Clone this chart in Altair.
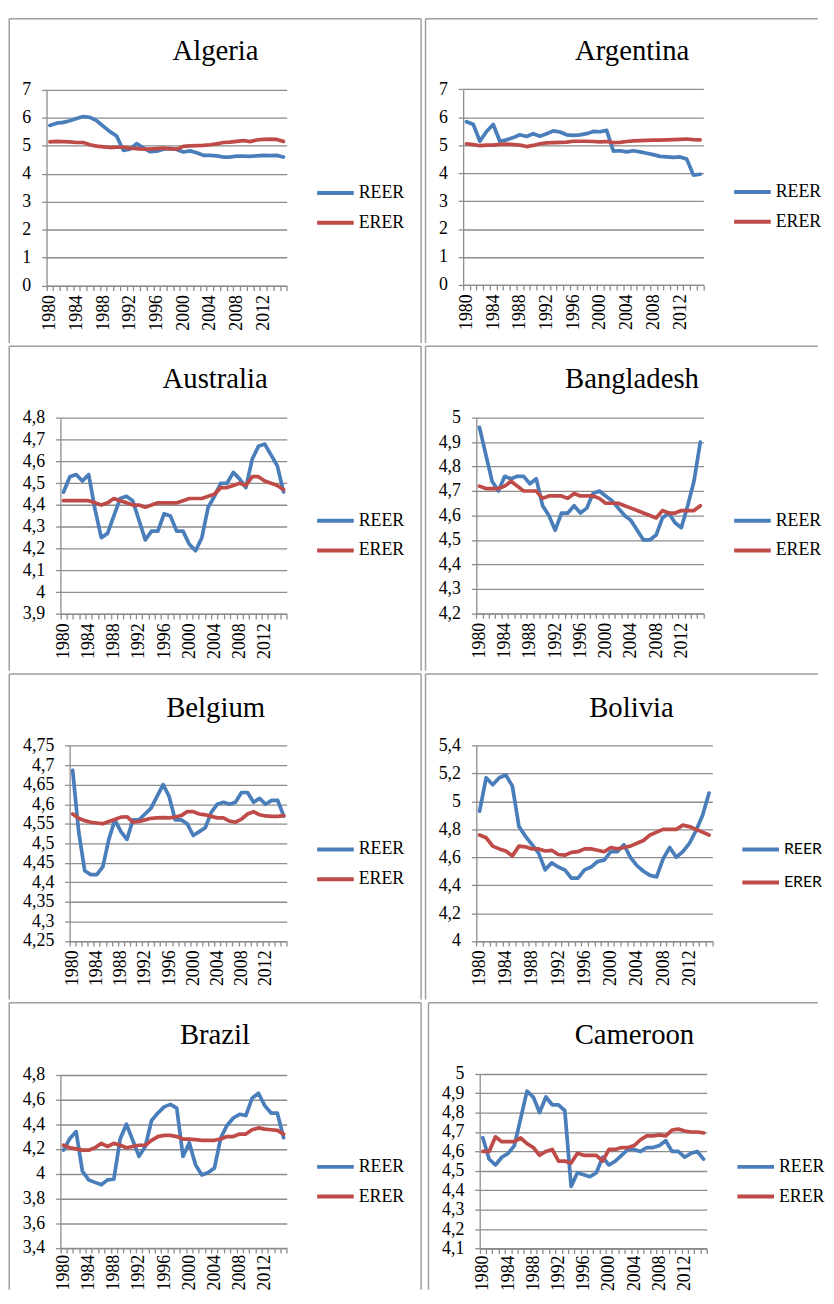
import altair as alt
import pandas as pd

years = list(range(1980, 2016))
countries = ["Algeria", "Argentina", "Australia", "Bangladesh",
             "Belgium", "Bolivia", "Brazil", "Cameroon"]

algeria_reer = [5.73, 5.81, 5.84, 5.90, 5.98, 6.05, 6.02, 5.90, 5.70, 5.51, 5.35, 4.84,
                4.88, 5.08, 4.93, 4.79, 4.81, 4.88, 4.90, 4.87, 4.78, 4.82, 4.75, 4.66,
                4.66, 4.64, 4.60, 4.60, 4.63, 4.63, 4.62, 4.64, 4.66, 4.65, 4.66, 4.60]
algeria_erer = [5.14, 5.16, 5.15, 5.14, 5.12, 5.12, 5.04, 4.99, 4.96, 4.94, 4.95, 4.95,
                4.92, 4.90, 4.88, 4.88, 4.90, 4.92, 4.90, 4.88, 4.98, 5.00, 5.01, 5.02,
                5.04, 5.07, 5.12, 5.13, 5.16, 5.19, 5.15, 5.21, 5.23, 5.24, 5.23, 5.16]
argentina_reer = [5.84, 5.75, 5.14, 5.49, 5.74, 5.14, 5.19, 5.27, 5.37, 5.31, 5.41, 5.32,
                  5.41, 5.51, 5.47, 5.37, 5.35, 5.37, 5.41, 5.49, 5.48, 5.53, 4.79, 4.80,
                  4.76, 4.80, 4.76, 4.71, 4.66, 4.60, 4.58, 4.56, 4.58, 4.50, 3.93, 3.96]
argentina_erer = [5.05, 5.02, 4.98, 5.00, 5.00, 5.03, 5.04, 5.02, 5.00, 4.95, 4.99, 5.05,
                  5.08, 5.09, 5.10, 5.11, 5.14, 5.14, 5.14, 5.13, 5.12, 5.13, 5.09, 5.10,
                  5.13, 5.15, 5.16, 5.17, 5.18, 5.18, 5.19, 5.20, 5.21, 5.22, 5.20, 5.19]
australia_reer = [4.46, 4.53, 4.54, 4.51, 4.54, 4.38, 4.25, 4.27, 4.35, 4.43, 4.44, 4.42,
                  4.33, 4.24, 4.28, 4.28, 4.36, 4.35, 4.28, 4.28, 4.22, 4.19, 4.25, 4.39,
                  4.44, 4.50, 4.50, 4.55, 4.52, 4.48, 4.61, 4.67, 4.68, 4.63, 4.58, 4.46]
australia_erer = [4.42, 4.42, 4.42, 4.42, 4.42, 4.41, 4.40, 4.41, 4.43, 4.42, 4.41, 4.40,
                  4.40, 4.39, 4.40, 4.41, 4.41, 4.41, 4.41, 4.42, 4.43, 4.43, 4.43, 4.44,
                  4.45, 4.48, 4.48, 4.49, 4.50, 4.49, 4.53, 4.53, 4.51, 4.50, 4.49, 4.47]
bangladesh_reer = [4.96, 4.85, 4.74, 4.70, 4.76, 4.75, 4.76, 4.76, 4.73, 4.75, 4.64, 4.60,
                   4.54, 4.61, 4.61, 4.64, 4.61, 4.63, 4.69, 4.70, 4.68, 4.66, 4.63, 4.60,
                   4.58, 4.54, 4.50, 4.50, 4.52, 4.59, 4.61, 4.57, 4.55, 4.64, 4.74, 4.90]
bangladesh_erer = [4.72, 4.71, 4.71, 4.71, 4.72, 4.74, 4.72, 4.70, 4.70, 4.70, 4.67, 4.68,
                   4.68, 4.68, 4.67, 4.69, 4.68, 4.68, 4.68, 4.67, 4.65, 4.65, 4.65, 4.64,
                   4.63, 4.62, 4.61, 4.60, 4.59, 4.62, 4.61, 4.61, 4.62, 4.62, 4.62, 4.64]
belgium_reer = [4.687, 4.53, 4.43, 4.42, 4.42, 4.44, 4.51, 4.56, 4.53, 4.51, 4.56, 4.56,
                4.575, 4.59, 4.62, 4.65, 4.62, 4.56, 4.56, 4.55, 4.52, 4.53, 4.54, 4.58,
                4.60, 4.605, 4.60, 4.605, 4.63, 4.63, 4.605, 4.615, 4.60, 4.61, 4.61, 4.57]
belgium_erer = [4.575, 4.564, 4.558, 4.554, 4.552, 4.55, 4.556, 4.561, 4.567, 4.568, 4.554, 4.556,
                4.56, 4.564, 4.565, 4.566, 4.565, 4.567, 4.571, 4.581, 4.581, 4.575, 4.573, 4.569,
                4.565, 4.565, 4.557, 4.554, 4.562, 4.575, 4.581, 4.573, 4.57, 4.569, 4.569, 4.571]
bolivia_reer = [4.93, 5.17, 5.12, 5.17, 5.19, 5.11, 4.82, 4.75, 4.69, 4.63, 4.51, 4.56,
                4.53, 4.51, 4.45, 4.45, 4.51, 4.53, 4.57, 4.58, 4.64, 4.64, 4.69, 4.60,
                4.54, 4.50, 4.47, 4.46, 4.59, 4.67, 4.60, 4.64, 4.70, 4.79, 4.90, 5.06]
bolivia_erer = [4.76, 4.74, 4.68, 4.66, 4.645, 4.61, 4.68, 4.675, 4.66, 4.66, 4.645, 4.65,
                4.62, 4.615, 4.635, 4.64, 4.66, 4.66, 4.65, 4.64, 4.67, 4.66, 4.67, 4.68,
                4.70, 4.72, 4.76, 4.78, 4.80, 4.80, 4.80, 4.83, 4.82, 4.80, 4.78, 4.76]
brazil_reer = [4.19, 4.285, 4.34, 4.02, 3.95, 3.93, 3.91, 3.95, 3.955, 4.28, 4.40, 4.27,
               4.14, 4.22, 4.43, 4.49, 4.54, 4.56, 4.53, 4.14, 4.25, 4.07, 3.99, 4.01,
               4.045, 4.29, 4.39, 4.45, 4.48, 4.47, 4.61, 4.65, 4.55, 4.49, 4.49, 4.29]
brazil_erer = [4.23, 4.21, 4.20, 4.19, 4.19, 4.21, 4.245, 4.22, 4.245, 4.23, 4.21, 4.22,
               4.23, 4.23, 4.27, 4.30, 4.31, 4.31, 4.30, 4.28, 4.28, 4.275, 4.27, 4.27,
               4.27, 4.28, 4.30, 4.30, 4.32, 4.32, 4.355, 4.37, 4.36, 4.355, 4.35, 4.32]
cameroon_reer = [4.67, 4.56, 4.53, 4.57, 4.59, 4.63, 4.77, 4.91, 4.88, 4.80, 4.88, 4.84,
                 4.84, 4.81, 4.42, 4.49, 4.48, 4.47, 4.49, 4.57, 4.53, 4.55, 4.58, 4.61,
                 4.61, 4.60, 4.62, 4.62, 4.63, 4.655, 4.60, 4.60, 4.57, 4.59, 4.60, 4.56]
cameroon_erer = [4.60, 4.60, 4.675, 4.65, 4.65, 4.65, 4.67, 4.64, 4.62, 4.58, 4.60, 4.61,
                 4.55, 4.55, 4.54, 4.59, 4.58, 4.58, 4.58, 4.55, 4.61, 4.61, 4.62, 4.62,
                 4.63, 4.66, 4.68, 4.68, 4.685, 4.68, 4.71, 4.715, 4.705, 4.70, 4.70, 4.695]

ticks_algeria = [0, 1, 2, 3, 4, 5, 6, 7]
ticks_argentina = [0, 1, 2, 3, 4, 5, 6, 7]
ticks_australia = [3.9, 4.0, 4.1, 4.2, 4.3, 4.4, 4.5, 4.6, 4.7, 4.8]
ticks_bangladesh = [4.2, 4.3, 4.4, 4.5, 4.6, 4.7, 4.8, 4.9, 5.0]
ticks_belgium = [4.25, 4.3, 4.35, 4.4, 4.45, 4.5, 4.55, 4.6, 4.65, 4.7, 4.75]
ticks_bolivia = [4.0, 4.2, 4.4, 4.6, 4.8, 5.0, 5.2, 5.4]
ticks_brazil = [3.4, 3.6, 3.8, 4.0, 4.2, 4.4, 4.6, 4.8]
ticks_cameroon = [4.1, 4.2, 4.3, 4.4, 4.5, 4.6, 4.7, 4.8, 4.9, 5.0]

reer_series = [algeria_reer, argentina_reer, australia_reer, bangladesh_reer,
               belgium_reer, bolivia_reer, brazil_reer, cameroon_reer]
erer_series = [algeria_erer, argentina_erer, australia_erer, bangladesh_erer,
               belgium_erer, bolivia_erer, brazil_erer, cameroon_erer]
tick_sets = [ticks_algeria, ticks_argentina, ticks_australia, ticks_bangladesh,
             ticks_belgium, ticks_bolivia, ticks_brazil, ticks_cameroon]

# page positions (px): cell origin and size, plot box, visible frame left, title, legend
RW = 396.25  # right-hand cells stop just inside the page width
layouts = [
    dict(cell=(9, 12, 416, 329.25), plot=(46.7, 84, 289.3, 281.7), fl=9, title=(217.3, 53.5), legend=(318, 186.7)),
    dict(cell=(429, 12, RW, 329.25), plot=(467, 83.3, 709.7, 281), fl=429, title=(637.7, 53.5), legend=(738.7, 185.7)),
    dict(cell=(9, 342, 416, 329.25), plot=(60.7, 414.3, 289.3, 612.3), fl=9, title=(217, 384.3), legend=(318, 516.7)),
    dict(cell=(429, 342, RW, 329.25), plot=(480.3, 414, 709.7, 611.7), fl=429, title=(637.5, 384.3), legend=(738.7, 516.7)),
    dict(cell=(9, 672, 416, 330.25), plot=(70, 744.3, 289.3, 941.7), fl=9, title=(217.5, 715), legend=(318, 847.7)),
    dict(cell=(429, 672, RW, 330.25), plot=(480.3, 744.3, 718.7, 941.7), fl=429, title=(637, 715), legend=(747, 846.7)),
    dict(cell=(9, 1003, 416, 290), plot=(60.7, 1075.7, 289.3, 1250.7), fl=9, title=(216.8, 1045), legend=(318, 1167.3)),
    dict(cell=(429, 1003, RW, 290), plot=(483.7, 1074.7, 713, 1251.3), fl=432, title=(640, 1045), legend=(742, 1167.3)),
]

SERIF = "Liberation Serif"
BLUE, RED = "#4A7EBB", "#BE4B48"
GRID = "#8C8C8C"
FRAME = "#9E9E9E"
one = pd.DataFrame({"k": [0]})


def rule(color=FRAME, **enc):
    return alt.Chart(one).mark_rule(color=color, strokeWidth=1.5).encode(
        **{k: alt.value(v) for k, v in enc.items()})


def panel(i):
    lay = layouts[i]
    cx0, cy0, cw, ch = lay["cell"]
    x0, y0, x1, y1 = lay["plot"]
    left_col = i % 2 == 0
    last_row = i >= 6
    band = (x1 - x0) / len(years)
    ticks = tick_sets[i]

    df = pd.DataFrame({
        "year": years + years,
        "value": reer_series[i] + erer_series[i],
        "series": ["REER"] * len(years) + ["ERER"] * len(years),
    })

    edges = [years[0] - 0.5 + k for k in range(len(years) + 1)]
    x = alt.X("year:Q",
              scale=alt.Scale(domain=[edges[0], edges[-1]], range=[x0 - cx0, x1 - cx0],
                              nice=False, zero=False),
              axis=alt.Axis(values=edges, title=None, grid=False, offset=-(ch - (y1 - cy0)),
                            labelExpr="(datum.value + 0.5) % 4 == 0 && datum.value < 2013 ? '' + (datum.value + 0.5) : ''",
                            labelAngle=270, labelAlign="right", labelBaseline="middle",
                            labelOffset=band / 2, labelPadding=1.5 if last_row else 4,
                            labelFont=SERIF, labelFontSize=18,
                            labelColor="black", labelOverlap=False,
                            labelFlush=False, domainColor=GRID, domainWidth=1.3,
                            tickColor=GRID, tickWidth=1.3, tickSize=5))
    y = alt.Y("value:Q",
              scale=alt.Scale(domain=[ticks[0], ticks[-1]], range=[y1 - cy0, y0 - cy0],
                              nice=False, zero=False),
              axis=alt.Axis(values=ticks, title=None, offset=-(x0 - cx0),
                            labelExpr="replace(format(datum.value, '~g'), '.', ',')",
                            labelPadding=11, labelFont=SERIF, labelFontSize=18,
                            labelColor="black", labelOverlap=False, labelFlush=False,
                            grid=True, gridColor=GRID, gridWidth=1.3,
                            domainColor=GRID, domainWidth=1.3,
                            tickColor=GRID, tickWidth=1.3, tickSize=5))
    sans = i == 5
    lx, ly = lay["legend"]
    color = alt.Color("series:N",
                      scale=alt.Scale(domain=["REER", "ERER"], range=[BLUE, RED]),
                      legend=alt.Legend(orient="none", legendX=lx - cx0,
                                        legendY=ly - cy0 - (18 if sans else 19),
                                        title=None, symbolType="stroke", symbolSize=1369,
                                        symbolStrokeWidth=4, labelOffset=3, padding=0,
                                        labelFont="Lato" if sans else SERIF,
                                        labelFontSize=16 if sans else 18,
                                        labelColor="black",
                                        rowPadding=4.3 if sans else -1.2))
    base = alt.Chart(df).mark_line(strokeWidth=3.75, strokeJoin="round", strokeCap="round").encode(
        x=x, y=y, color=color)
    reer_line = base.transform_filter(alt.datum.series == "REER")
    erer_line = base.transform_filter(alt.datum.series == "ERER")

    tx, ty = lay["title"]
    title = alt.Chart(pd.DataFrame({"name": [countries[i]]})).mark_text(
        font=SERIF, fontSize=29, align="center", baseline="alphabetic", color="black"
    ).encode(x=alt.value(tx - cx0), y=alt.value(ty - cy0), text="name:N")

    fl = lay["fl"] - cx0
    bottom = ch if last_row else ch - 1.5
    frames = [
        rule(x=fl, x2=cw, y=0),
        rule(x=fl, y=0, y2=bottom),
    ]
    if fl > 0:
        frames.append(rule(color="white", x=0, y=0, y2=1))
    if left_col:
        frames.append(rule(x=cw, y=0, y2=bottom))

    return alt.layer(*frames, reer_line, erer_line, title).properties(width=cw, height=ch)


rows = []
for r in range(4):
    row = alt.hconcat(panel(2 * r), panel(2 * r + 1), spacing=2.5)
    rows.append(row.resolve_scale(color="independent").resolve_legend(color="independent"))

chart = (
    alt.vconcat(*rows, spacing=0)
    .resolve_scale(color="independent")
    .resolve_legend(color="independent")
    .properties(padding={"left": 0.25, "top": 3.25, "right": 0, "bottom": 0})
    .configure_view(stroke="transparent", strokeWidth=0)
)

chart.save("out.html", embed_options={"renderer": "svg", "actions": False})
